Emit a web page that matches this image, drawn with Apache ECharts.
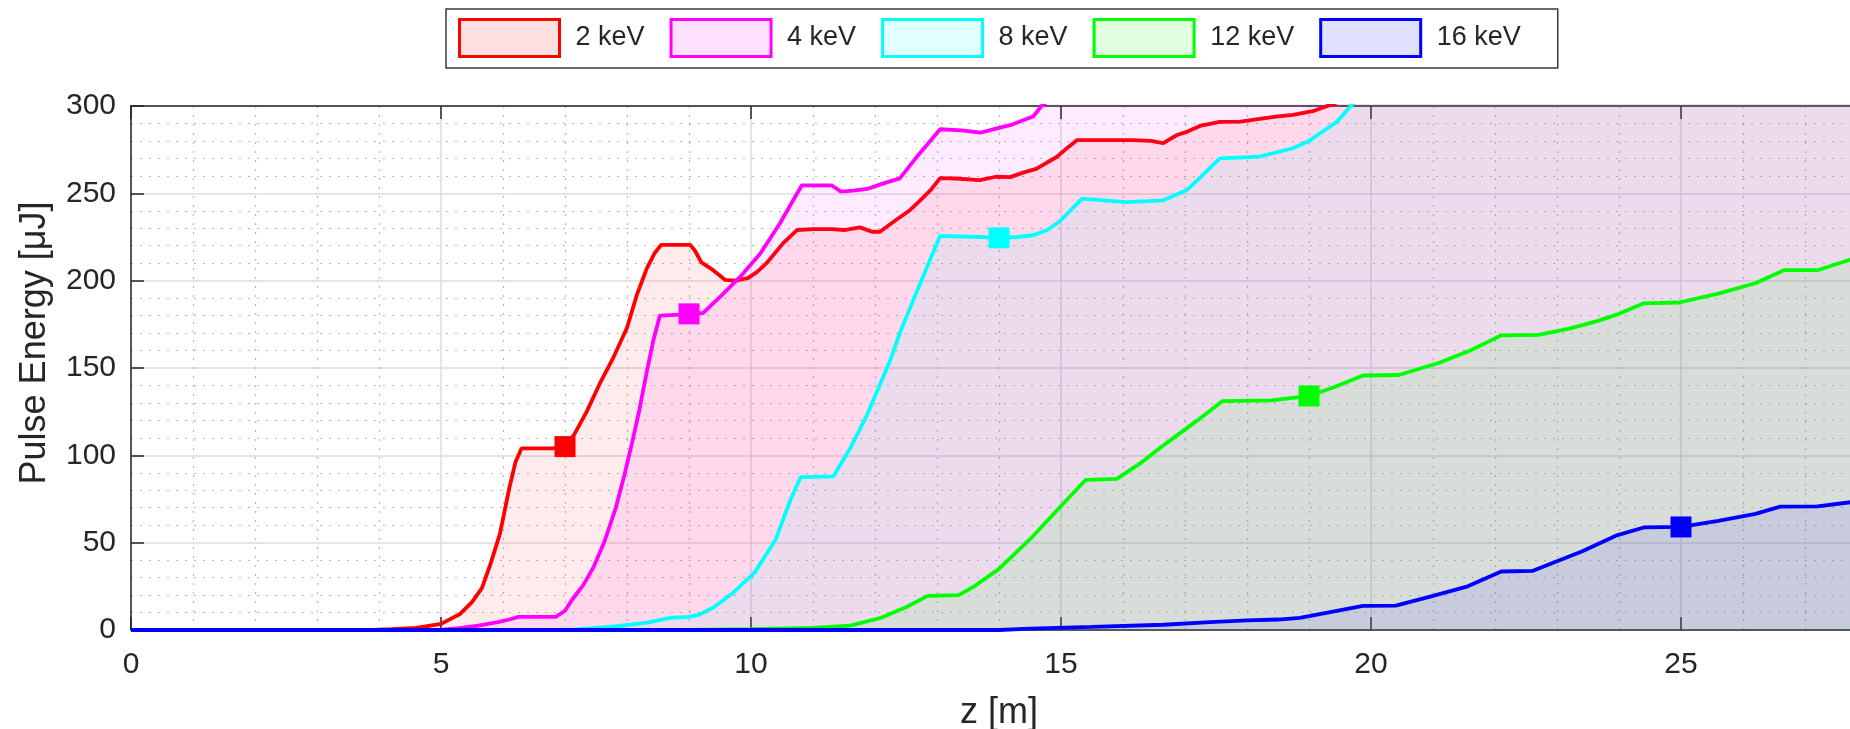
<!DOCTYPE html>
<html>
<head>
<meta charset="utf-8">
<script src="https://cdn.jsdelivr.net/npm/echarts@6/dist/echarts.min.js"></script>
<style>
  html, body { margin: 0; padding: 0; background: #fff; overflow: hidden; width: 1850px; height: 729px; }
  /* the plot runs on past the right edge of the page, so the drawing surface is wider than the window */
  #chart { width: 1991px; height: 729px; }
</style>
</head>
<body>
<div id="chart"></div>
<script>
// Pulse energy along the undulator for five photon energies
const seriesNames = ['2 keV', '4 keV', '8 keV', '12 keV', '16 keV'];
const seriesColors = ['#ff0000', '#ff00ff', '#00ffff', '#00ff00', '#0000ff'];
const xTicks = [0, 5, 10, 15, 20, 25];
const yTicks = [0, 50, 100, 150, 200, 250, 300];

// [z (m), pulse energy (uJ)]
const e2keV = [[0,0],[3.9,0],[4.2,0.5],[4.6,1.2],[5.0,3.5],[5.3,9],[5.5,16],[5.66,24],[5.8,38],[5.95,55],[6.1,81],[6.2,96],[6.3,104],[6.8,104],[7.0,105],[7.15,112],[7.35,125],[7.56,141],[7.78,156],[8.0,173],[8.16,192],[8.32,207],[8.45,216],[8.55,220.5],[9.02,220.5],[9.1,217],[9.2,210.5],[9.39,206],[9.58,200.5],[9.75,200],[9.95,201.5],[10.1,205],[10.25,210],[10.52,221.5],[10.74,229],[11.0,229.5],[11.3,229.5],[11.5,229],[11.76,230.5],[11.95,228],[12.08,228],[12.35,235],[12.55,240],[12.73,246],[12.9,252],[13.05,258.7],[13.3,258.5],[13.69,257.6],[13.95,259.5],[14.18,259.3],[14.4,262],[14.6,264],[14.93,270.8],[15.1,276],[15.26,280.5],[15.7,280.5],[16.16,280.5],[16.45,280],[16.65,278.8],[16.87,283.4],[17.05,285.5],[17.24,288.6],[17.56,290.9],[17.9,291],[18.2,292.6],[18.5,294],[18.74,294.9],[19.06,297],[19.34,300.6],[19.6,304],[22,330],[25,360],[28,390]];
const e4keV = [[0,0],[5.0,0],[5.3,1],[5.6,2.5],[5.92,4.5],[6.1,6],[6.25,7.5],[6.85,7.5],[7.0,11],[7.1,16.6],[7.3,26],[7.46,36],[7.64,51],[7.82,70],[7.96,89],[8.1,110],[8.2,126],[8.32,148],[8.42,165],[8.53,180],[8.85,180.5],[9.0,181],[9.23,181.5],[9.36,186],[9.5,190.7],[9.82,202],[10.15,215.6],[10.47,233],[10.68,246],[10.82,254.6],[11.3,254.6],[11.45,251],[11.65,251.5],[11.87,252.5],[12.16,256],[12.4,258.6],[12.7,272],[13.05,286.7],[13.4,286],[13.7,284.7],[13.95,287],[14.18,289],[14.4,292],[14.55,294],[14.7,300.6],[15.2,312],[20,360],[28,420]];
const e8keV = [[0,0],[6.8,0],[7.2,0.3],[7.8,2],[8.33,4.2],[8.69,7],[9.0,7.5],[9.18,9],[9.4,13],[9.7,21],[10.06,33],[10.4,52],[10.63,74],[10.8,87.5],[11.33,88],[11.6,104],[11.87,123],[12.24,154],[12.4,170],[12.7,196],[13.05,225.7],[13.69,225],[14.0,224.5],[14.3,225],[14.55,226],[14.78,229],[14.98,234],[15.34,247],[15.7,246],[16.06,245],[16.4,245.5],[16.65,246],[17.03,251.9],[17.3,261],[17.56,270],[18.2,271],[18.74,275.8],[19.0,280],[19.18,284.4],[19.45,291],[19.69,300.6],[20.0,310],[24,345],[28,375]];
const e12keV = [[0,0],[9.0,0],[10.0,0.5],[11.0,1.2],[11.6,2.5],[12.1,7],[12.5,13],[12.85,19.5],[13.35,20],[13.6,25],[14.0,35],[14.5,52],[15.0,71],[15.4,86],[15.9,86.5],[16.3,96],[16.7,107],[17.2,120],[17.6,131],[18.4,131.5],[19.0,134],[19.4,139],[19.87,145.7],[20.45,146],[21.1,153],[21.6,160],[22.1,168.7],[22.7,169],[23.2,172.5],[23.66,177],[24.0,181],[24.4,187],[24.97,187.5],[25.6,192.6],[26.2,198.5],[26.66,206],[27.2,206],[27.7,211.7],[28,214]];
const e16keV = [[0,0],[14.0,0],[14.5,0.8],[15.5,1.8],[16.65,3],[17.4,4.5],[18.0,5.5],[18.5,6],[18.85,7],[19.3,10],[19.87,13.8],[20.4,14],[21.0,19.5],[21.56,25],[22.1,33.5],[22.6,33.8],[23.4,45],[23.95,54],[24.4,58.7],[25.0,59],[25.6,62.5],[26.2,66.5],[26.6,70.6],[27.2,70.8],[27.7,73],[28,74]];

// z position of the square marker on each curve
const markerZ = [7, 9, 14, 19, 25];

const curves = [e2keV, e4keV, e8keV, e12keV, e16keV];
const FONT = '"Liberation Sans", Arial, Helvetica, sans-serif';
const TEXT = '#262626';
const fillAlpha = 0.11;

function rgba(hex, a) {
  const n = parseInt(hex.slice(1), 16);
  return 'rgba(' + ((n >> 16) & 255) + ',' + ((n >> 8) & 255) + ',' + (n & 255) + ',' + a + ')';
}
function valueAt(data, z) {
  const p = data.find(d => d[0] === z);
  return p ? p[1] : null;
}

const lineSeries = curves.map((d, i) => ({
  name: seriesNames[i],
  type: 'line',
  data: d,
  symbol: 'none',
  showSymbol: false,
  clip: true,
  lineStyle: { color: seriesColors[i], width: 3.8 },
  itemStyle: { color: seriesColors[i] },
  areaStyle: { color: rgba(seriesColors[i], fillAlpha), origin: 'start' },
  z: 2 + i * 0.01,
  animation: false
}));

const markerSeries = curves.map((d, i) => ({
  name: seriesNames[i],
  type: 'scatter',
  data: [[markerZ[i], valueAt(d, markerZ[i])]],
  symbol: 'rect',
  symbolSize: 21,
  itemStyle: { color: seriesColors[i], opacity: 1 },
  z: 5,
  animation: false
}));

const gridLeft = 131, gridTop = 106, gridH = 524;
const pxPerMeter = 62;
const xMax = 30;

const chart = echarts.init(document.getElementById('chart'), null, { renderer: 'canvas' });
chart.setOption({
  backgroundColor: '#ffffff',
  animation: false,
  textStyle: { fontFamily: FONT },
  legend: {
    left: 446,
    top: 9,
    orient: 'horizontal',
    padding: [9, 37, 10, 12],
    itemGap: 25,
    itemWidth: 100,
    itemHeight: 37,
    backgroundColor: '#ffffff',
    borderColor: '#3a3a3a',
    borderWidth: 1.5,
    selectedMode: false,
    textStyle: { fontSize: 27, color: TEXT, fontFamily: FONT, padding: [0, 0, 0, 11] },
    data: seriesNames.map((n, i) => ({
      name: n,
      icon: 'rect',
      itemStyle: { color: rgba(seriesColors[i], 0.12), borderColor: seriesColors[i], borderWidth: 3 }
    }))
  },
  grid: {
    left: gridLeft, top: gridTop, width: pxPerMeter * xMax, height: gridH,
    containLabel: false, outerBoundsMode: 'none'
  },
  xAxis: [{
    type: 'value',
    position: 'bottom',
    min: 0, max: xMax, interval: 5,
    name: 'z [m]',
    nameLocation: 'middle',
    nameGap: 65,
    nameTextStyle: { fontSize: 36, color: TEXT, fontFamily: FONT, padding: [0, 124, 0, 0] },
    axisLine: { show: true, onZero: false, lineStyle: { color: TEXT, width: 1.5 } },
    axisTick: { show: true, inside: true, length: 13, lineStyle: { color: TEXT, width: 1.5 } },
    axisLabel: {
      show: true, margin: 20, fontSize: 30, color: TEXT, fontFamily: FONT,
      showMaxLabel: false,
      formatter: v => (xTicks.indexOf(v) >= 0 ? String(v) : '')
    },
    splitLine: { show: true, lineStyle: { color: '#dcdcdc', width: 1.5 } },
    minorTick: { show: false, splitNumber: 5 },
    minorSplitLine: { show: true, lineStyle: { color: '#b8b8b8', width: 1.2, type: [2, 7] } }
  }, {
    type: 'value',
    position: 'top',
    min: 0, max: xMax, interval: 5,
    axisLine: { show: true, onZero: false, lineStyle: { color: TEXT, width: 1.5 } },
    axisTick: { show: true, inside: true, length: 13, lineStyle: { color: TEXT, width: 1.5 } },
    axisLabel: { show: false },
    splitLine: { show: false }
  }],
  yAxis: {
    type: 'value',
    min: 0, max: 300, interval: 50,
    name: 'Pulse Energy [μJ]',
    nameLocation: 'middle',
    nameGap: 78,
    nameTextStyle: { fontSize: 36, color: TEXT, fontFamily: FONT, padding: [0, 0, 0, 50] },
    axisLine: { show: true, lineStyle: { color: TEXT, width: 1.5 } },
    axisTick: { show: true, inside: true, length: 13, lineStyle: { color: TEXT, width: 1.5 } },
    axisLabel: {
      margin: 15, fontSize: 30, color: TEXT, fontFamily: FONT,
      formatter: v => (yTicks.indexOf(v) >= 0 ? String(v) : '')
    },
    splitLine: { show: true, lineStyle: { color: '#dcdcdc', width: 1.5 } },
    minorTick: { show: false, splitNumber: 5 },
    minorSplitLine: { show: true, lineStyle: { color: '#b8b8b8', width: 1.2, type: [2, 7] } }
  },
  series: lineSeries.concat(markerSeries)
});
</script>
</body>
</html>
